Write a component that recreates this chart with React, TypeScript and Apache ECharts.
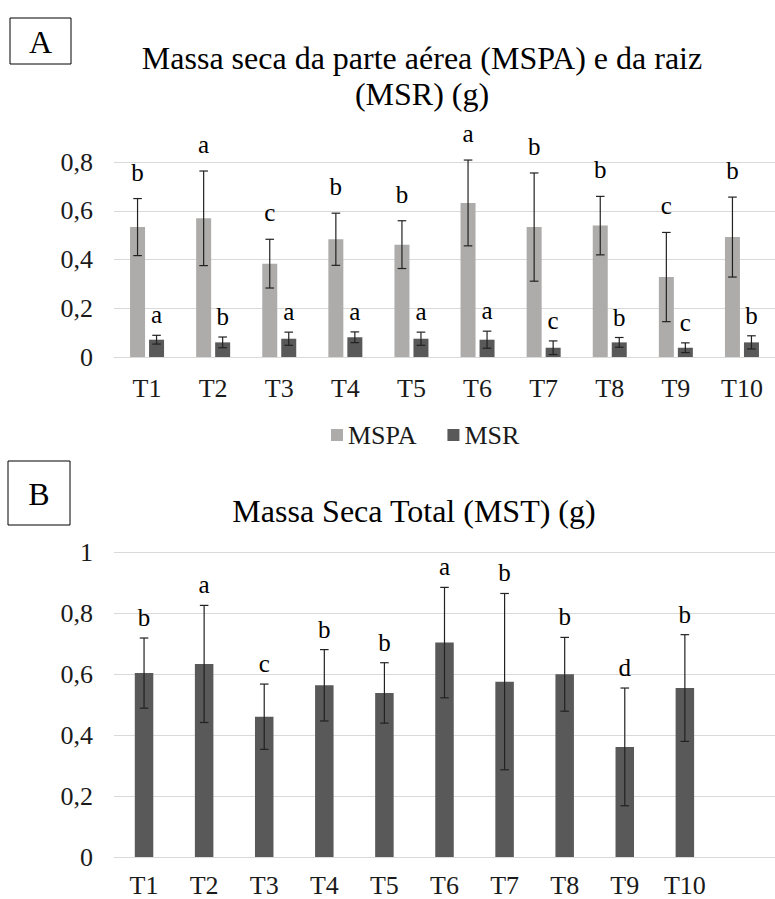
import React, { useEffect, useRef } from "react";
import * as echarts from "echarts";

const categoriesA = ["T1", "T2", "T3", "T4", "T5", "T6", "T7", "T8", "T9", "T10"];
const mspa = [0.533, 0.569, 0.383, 0.483, 0.461, 0.632, 0.533, 0.539, 0.328, 0.492];
const mspaErr = [0.117, 0.194, 0.1, 0.107, 0.098, 0.176, 0.222, 0.12, 0.183, 0.164];
const mspaLetters = ["b", "a", "c", "b", "b", "a", "b", "b", "c", "b"];
const msr = [0.071, 0.06, 0.075, 0.081, 0.075, 0.071, 0.038, 0.06, 0.038, 0.06];
const msrErr = [0.018, 0.022, 0.027, 0.022, 0.027, 0.035, 0.028, 0.02, 0.02, 0.027];
const msrLetters = ["a", "b", "a", "a", "a", "a", "c", "b", "c", "b"];

const categoriesB = ["T1", "T2", "T3", "T4", "T5", "T6", "T7", "T8", "T9", "T10", ""];
const mst = [0.603, 0.633, 0.46, 0.563, 0.538, 0.703, 0.575, 0.599, 0.361, 0.554];
const mstErr = [0.115, 0.192, 0.107, 0.117, 0.099, 0.181, 0.289, 0.121, 0.193, 0.175];
const mstLetters = ["b", "a", "c", "b", "b", "a", "b", "b", "d", "b"];

const titleA = "Massa seca da parte aérea (MSPA) e da raiz\n(MSR) (g)";
const titleB = "Massa Seca Total (MST) (g)";
const legendNames = ["MSPA", "MSR"];

const FONT = "'Liberation Serif', 'Times New Roman', Times, 'DejaVu Serif', serif";
const C_LIGHT = "#AEABAB";
const C_DARK = "#595959";
const GRID = "#D9D9D9";
const TXT = "#1a1a1a";

function fmt(v: number) {
  if (v === 0) return "0";
  return String(+v.toFixed(1)).replace(".", ",");
}

function errRender(errs: number[], letters: string[], offsetPx: number, gap: number, fontSize: number) {
  return (params: any, api: any) => {
    const i = api.value(0);
    const v = api.value(1);
    const e = errs[params.dataIndex];
    const top = api.coord([i, v + e]);
    const bot = api.coord([i, v - e]);
    const x = top[0] + offsetPx;
    const cap = 4.3;
    const st = { stroke: "#222", lineWidth: 1.2 };
    return {
      type: "group",
      children: [
        { type: "line", shape: { x1: x, y1: top[1], x2: x, y2: bot[1] }, style: st },
        { type: "line", shape: { x1: x - cap, y1: top[1], x2: x + cap, y2: top[1] }, style: st },
        { type: "line", shape: { x1: x - cap, y1: bot[1], x2: x + cap, y2: bot[1] }, style: st },
        {
          type: "text",
          x: x,
          y: top[1] - gap,
          style: {
            text: letters[params.dataIndex],
            fontFamily: FONT,
            fontSize: fontSize,
            fill: "#000",
            align: "center",
            verticalAlign: "bottom",
          },
        },
      ],
    };
  };
}

export default function App() {
  const ref = useRef<HTMLDivElement>(null);
  useEffect(() => {
    if (!ref.current) return;
    const chart = echarts.init(ref.current, null, { renderer: "svg" });
    const axisLabel = { fontFamily: FONT, fontSize: 26, color: TXT };
    const barW = 15;
    const barGapPx = 4;
    const offA = (barW + barGapPx) / 2;
    const option: any = {
      animation: false,
      backgroundColor: "#fff",
      grid: [
        { left: 114, top: 162, width: 664, height: 195, containLabel: false },
        { left: 114, top: 552, width: 664, height: 305, containLabel: false },
      ],
      legend: {
        data: legendNames,
        left: 326,
        top: 417,
        itemWidth: 12,
        itemHeight: 12,
        itemGap: 31,
        icon: "rect",
        textStyle: { fontFamily: FONT, fontSize: 26, color: TXT },
      },
      xAxis: [
        {
          type: "category",
          gridIndex: 0,
          data: categoriesA,
          axisLine: { lineStyle: { color: GRID, width: 1 } },
          axisTick: { show: false },
          axisLabel: { ...axisLabel, margin: 18 },
        },
        {
          type: "category",
          gridIndex: 1,
          data: categoriesB,
          axisLine: { lineStyle: { color: GRID, width: 1 } },
          axisTick: { show: false },
          axisLabel: { ...axisLabel, margin: 15 },
        },
      ],
      yAxis: [
        {
          type: "value",
          gridIndex: 0,
          min: 0,
          max: 0.8,
          interval: 0.2,
          axisLine: { show: false },
          axisTick: { show: false },
          splitLine: { lineStyle: { color: GRID, width: 1 } },
          axisLabel: { ...axisLabel, margin: 21, formatter: fmt },
        },
        {
          type: "value",
          gridIndex: 1,
          min: 0,
          max: 1,
          interval: 0.2,
          axisLine: { show: false },
          axisTick: { show: false },
          splitLine: { lineStyle: { color: GRID, width: 1 } },
          axisLabel: { ...axisLabel, margin: 21, formatter: fmt },
        },
      ],
      series: [
        {
          name: "MSPA",
          type: "bar",
          xAxisIndex: 0,
          yAxisIndex: 0,
          data: mspa,
          barWidth: barW,
          barGap: `${(barGapPx / barW) * 100}%`,
          itemStyle: { color: C_LIGHT },
        },
        {
          name: "MSR",
          type: "bar",
          xAxisIndex: 0,
          yAxisIndex: 0,
          data: msr,
          barWidth: barW,
          barGap: `${(barGapPx / barW) * 100}%`,
          itemStyle: { color: C_DARK },
        },
        {
          name: "errMSPA",
          type: "custom",
          xAxisIndex: 0,
          yAxisIndex: 0,
          data: mspa.map((v, i) => [i, v]),
          encode: { x: 0, y: 1 },
          renderItem: errRender(mspaErr, mspaLetters, -offA, 14, 25),
          z: 10,
          silent: true,
        },
        {
          name: "errMSR",
          type: "custom",
          xAxisIndex: 0,
          yAxisIndex: 0,
          data: msr.map((v, i) => [i, v]),
          encode: { x: 0, y: 1 },
          renderItem: errRender(msrErr, msrLetters, offA, 8, 25),
          z: 10,
          silent: true,
        },
        {
          name: "MST",
          type: "bar",
          xAxisIndex: 1,
          yAxisIndex: 1,
          data: mst,
          barWidth: 18.5,
          itemStyle: { color: C_DARK },
        },
        {
          name: "errMST",
          type: "custom",
          xAxisIndex: 1,
          yAxisIndex: 1,
          data: mst.map((v, i) => [i, v]),
          encode: { x: 0, y: 1 },
          renderItem: errRender(mstErr, mstLetters, 0, 8, 25),
          z: 10,
          silent: true,
        },
      ],
      graphic: [
        { type: "rect", shape: { x: 10, y: 18, width: 61, height: 46 }, style: { fill: "#fff", stroke: "#000", lineWidth: 1 } },
        {
          type: "text",
          x: 40.5,
          y: 42,
          style: { text: "A", fontFamily: FONT, fontSize: 32, fill: "#000", align: "center", verticalAlign: "middle" },
        },
        { type: "rect", shape: { x: 8, y: 461, width: 62, height: 64 }, style: { fill: "#fff", stroke: "#000", lineWidth: 1 } },
        {
          type: "text",
          x: 39,
          y: 494,
          style: { text: "B", fontFamily: FONT, fontSize: 32, fill: "#000", align: "center", verticalAlign: "middle" },
        },
        {
          type: "text",
          x: 422,
          y: 40,
          style: { text: titleA, fontFamily: FONT, fontSize: 32, lineHeight: 36, fill: "#000", align: "center", verticalAlign: "top" },
        },
        {
          type: "text",
          x: 414,
          y: 495,
          style: { text: titleB, fontFamily: FONT, fontSize: 32, fill: "#000", align: "center", verticalAlign: "top" },
        },
      ],
    };
    chart.setOption(option);
    return () => chart.dispose();
  }, []);
  return <div ref={ref} style={{ position: "fixed", left: 0, top: 0, width: 775, height: 899, background: "#fff" }} />;
}
